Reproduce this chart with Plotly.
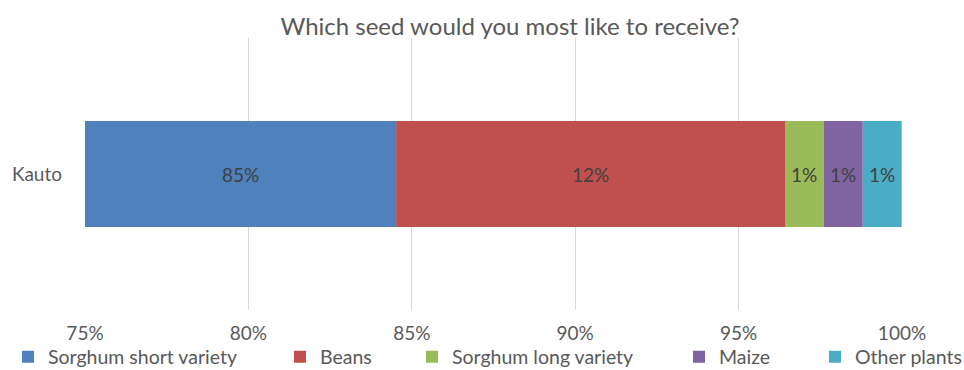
import plotly.graph_objects as go

categories = ["Kauto"]
series_names = ["Sorghum short variety", "Beans", "Sorghum long variety", "Maize", "Other plants"]
series_values = [84.52, 11.90, 1.19, 1.19, 1.19]
series_labels = ["85%", "12%", "1%", "1%", "1%"]
colors = ["#4F81BD", "#C0504D", "#9BBB59", "#8064A2", "#4BACC6"]
x_ticks = [75, 80, 85, 90, 95, 100]
x_tick_labels = ["75%", "80%", "85%", "90%", "95%", "100%"]
x_range = [75, 100]

FONT = "Lato"
W, H = 964, 370
legend_x_px = [8, 280, 412, 679, 815]

fig = go.Figure()
annotations = []
cum = 0.0
for i, (name, val, lab, col) in enumerate(zip(series_names, series_values, series_labels, colors)):
    lg = "legend" if i == 0 else f"legend{i+1}"
    fig.add_trace(go.Bar(
        y=categories, x=[val], base=[cum], orientation="h", name=name,
        marker=dict(color=col, line=dict(width=0)), width=0.39,
        legend=lg, hoverinfo="name+x",
    ))
    lo = max(cum, x_range[0]); hi = min(cum + val, x_range[1])
    annotations.append(dict(x=(lo + hi) / 2, y=categories[0], xref="x", yref="y",
                            text=lab, showarrow=False,
                            font=dict(family=FONT, size=19, color="#404040")))
    cum += val

layout_legends = {}
for i, px in enumerate(legend_x_px):
    key = "legend" if i == 0 else f"legend{i+1}"
    layout_legends[key] = dict(
        x=px / W, xref="container", xanchor="left",
        y=1 - 357 / H, yref="container", yanchor="middle",
        orientation="h", bgcolor="rgba(0,0,0,0)", borderwidth=0,
        font=dict(family=FONT, size=19.5, color="#595959"),
    )

fig.update_layout(
    width=W, height=H,
    margin=dict(l=85, r=62, t=38, b=60, pad=0, autoexpand=False),
    paper_bgcolor="white", plot_bgcolor="white",
    barmode="overlay",
    showlegend=True,
    title=dict(text="Which seed would you most like to receive?",
               x=510 / W, xanchor="center", xref="container",
               y=1 - 27 / H, yanchor="middle", yref="container",
               font=dict(family=FONT, size=24, color="#595959")),
    xaxis=dict(range=x_range, tickvals=x_ticks, ticktext=x_tick_labels,
               showgrid=True, gridcolor="#D9D9D9", gridwidth=1,
               zeroline=False, showline=False, ticks="",
               ticklabelstandoff=10,
               tickfont=dict(family=FONT, size=19, color="#595959")),
    yaxis=dict(showgrid=False, zeroline=False, showline=False, ticks="",
               ticklabelstandoff=22, range=[-0.5, 0.5],
               tickfont=dict(family=FONT, size=19, color="#595959")),
    annotations=annotations,
    **layout_legends,
)

fig.write_html("out.html")
